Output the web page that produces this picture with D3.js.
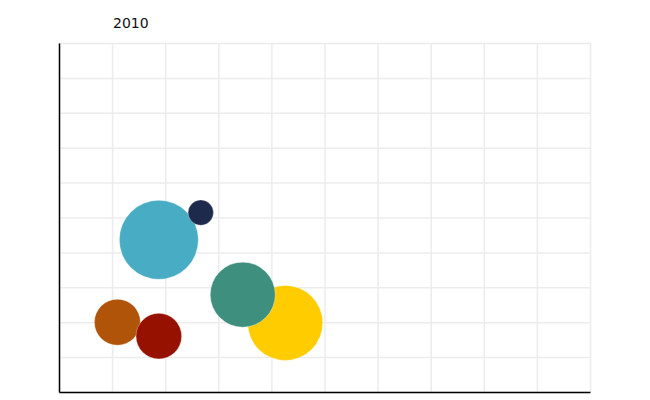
<!DOCTYPE html>
<html lang="en">
<head>
  <meta charset="UTF-8" />
  <title>Bubble chart 2010</title>
  <style>
    body {
      margin: 0;
      background: #fff;
    }
    .grid line {
      stroke: #ececec;
      stroke-width: 1.5px;
    }
    .grid .domain {
      display: none;
    }
    .grid text {
      display: none;
    }
    .title {
      font-family: "DejaVu Sans", sans-serif;
      font-size: 14px;
      fill: #111;
    }
  </style>
</head>
<body>
  <div id="chart"></div>

  <script src="https://d3js.org/d3.v7.min.js"></script>
  <script>
    // Data
    const year = "2010";
    const groups = ["A", "B", "C", "D", "E", "F"];
    const xValues = [1.88, 2.67, 1.10, 1.88, 4.26, 3.46];
    const yValues = [4.36, 5.14, 2.00, 1.60, 1.98, 2.79];
    const sizes = [1560, 161, 529, 520, 1406, 1056];
    const palette = ["#47acc4", "#1e2a4c", "#b0540a", "#961100", "#ffcc00", "#3e8f7d"];
    const xTicks = [0, 1, 2, 3, 4, 5, 6, 7, 8, 9, 10];
    const yTicks = [0, 1, 2, 3, 4, 5, 6, 7, 8, 9, 10];

    const data = groups.map((g, i) => ({
      group: g, x: xValues[i], y: yValues[i], size: sizes[i]
    }));

    const margin = { top: 43, right: 60, bottom: 8, left: 59 };
    const W = 650, H = 400;
    const width = W - margin.left - margin.right;
    const height = H - margin.top - margin.bottom;

    const svg = d3.select("#chart")
      .append("svg")
      .attr("width", W)
      .attr("height", H);

    svg.append("text")
      .attr("class", "title")
      .attr("x", 113)
      .attr("y", 28)
      .text(year);

    const g = svg.append("g")
      .attr("transform", `translate(${margin.left},${margin.top})`);

    const x = d3.scaleLinear().domain([0, 10]).range([0, width]);
    const y = d3.scaleLinear().domain([0, 10]).range([height, 0]);
    const r = d3.scaleSqrt().domain([0, 1600]).range([0, 40]);
    const color = d3.scaleOrdinal().domain(groups).range(palette);

    // Gridlines
    g.append("g")
      .attr("class", "grid")
      .attr("transform", `translate(0,${height})`)
      .call(d3.axisBottom(x).tickValues(xTicks).tickSize(-height).tickFormat(""));

    g.append("g")
      .attr("class", "grid")
      .call(d3.axisLeft(y).tickValues(yTicks).tickSize(-width).tickFormat(""));

    // Axes lines
    g.append("g")
      .attr("transform", `translate(0,${height})`)
      .call(d3.axisBottom(x).tickValues([]).tickSizeOuter(0))
      .select(".domain")
      .attr("stroke", "#000")
      .attr("stroke-width", 1.5);

    g.append("g")
      .call(d3.axisLeft(y).tickValues([]).tickSizeOuter(0))
      .select(".domain")
      .attr("stroke", "#000")
      .attr("stroke-width", 1.5);

    // Bubbles
    g.selectAll("circle.bubble")
      .data(data)
      .enter()
      .append("circle")
      .attr("class", "bubble")
      .attr("cx", d => x(d.x))
      .attr("cy", d => y(d.y))
      .attr("r", d => r(d.size))
      .attr("fill", d => color(d.group))
      .attr("stroke", "#fff")
      .attr("stroke-opacity", 0.4)
      .attr("stroke-width", 0.8);
  </script>
</body>
</html>
